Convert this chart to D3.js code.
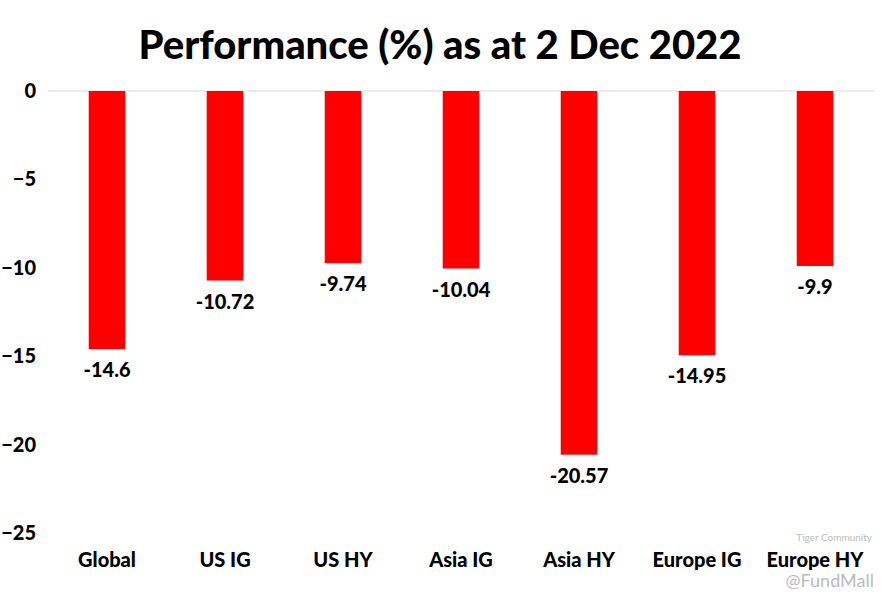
<!DOCTYPE html>
<html><head><meta charset="utf-8">
<script src="https://cdn.jsdelivr.net/npm/d3@7"></script>
<style>body{margin:0;background:#fff}svg{display:block}</style>
</head><body>
<script>
const categories = ["Global","US IG","US HY","Asia IG","Asia HY","Europe IG","Europe HY"];
const values = [-14.6,-10.72,-9.74,-10.04,-20.57,-14.95,-9.9];
const valueLabels = ["-14.6","-10.72","-9.74","-10.04","-20.57","-14.95","-9.9"];
const yTicks = [0,-5,-10,-15,-20,-25];
const title = "Performance (%) as at 2 Dec 2022";

const W=890,H=602;
const font = "Lato, 'Open Sans', sans-serif";
const svg = d3.select("body").append("svg").attr("width",W).attr("height",H);
const x = d3.scaleBand().domain(categories).range([48,874]).paddingInner(0.69).paddingOuter(0.345);
const y = d3.scaleLinear().domain([0,-25]).range([91,533]);

svg.append("text").attr("x",440).attr("y",59).attr("text-anchor","middle")
  .attr("font-family",font).attr("font-weight",900).attr("font-size",40).text(title);

svg.append("line").attr("x1",48).attr("x2",874).attr("y1",y(0)).attr("y2",y(0))
  .attr("stroke","#d9d9d9").attr("stroke-width",1);

const yAxis = svg.append("g").attr("transform","translate(36,0)")
  .call(d3.axisLeft(y).tickValues(yTicks).tickSize(0).tickPadding(0).tickFormat(d3.format("d")));
yAxis.select(".domain").remove();
yAxis.selectAll("text").attr("font-family",font).attr("font-weight",900).attr("font-size",20).attr("fill","#000");

svg.selectAll("rect.bar").data(values).join("rect").attr("class","bar")
  .attr("x",(d,i)=>x(categories[i])).attr("width",x.bandwidth())
  .attr("y",y(0)).attr("height",d=>y(d)-y(0)).attr("fill","#ff0000");

svg.selectAll("text.val").data(values).join("text").attr("class","val")
  .attr("x",(d,i)=>x(categories[i])+x.bandwidth()/2).attr("y",d=>y(d)+28)
  .attr("text-anchor","middle").attr("font-family",font).attr("font-weight",900).attr("font-size",20)
  .text((d,i)=>valueLabels[i]);

const xAxis = svg.append("g").attr("transform","translate(0,553)")
  .call(d3.axisBottom(x).tickSize(0).tickPadding(0));
xAxis.select(".domain").remove();
xAxis.selectAll("text").attr("font-family",font).attr("font-weight",900).attr("font-size",20).attr("fill","#000");

svg.append("text").attr("x",872).attr("y",541).attr("text-anchor","end").attr("font-family",font)
  .attr("font-size",10).attr("fill","#bbb").text("Tiger Community");
svg.append("text").attr("x",874).attr("y",587).attr("text-anchor","end").attr("font-family",font)
  .attr("font-size",18).attr("fill","#bbb").text("@FundMall");
</script>
</body></html>
